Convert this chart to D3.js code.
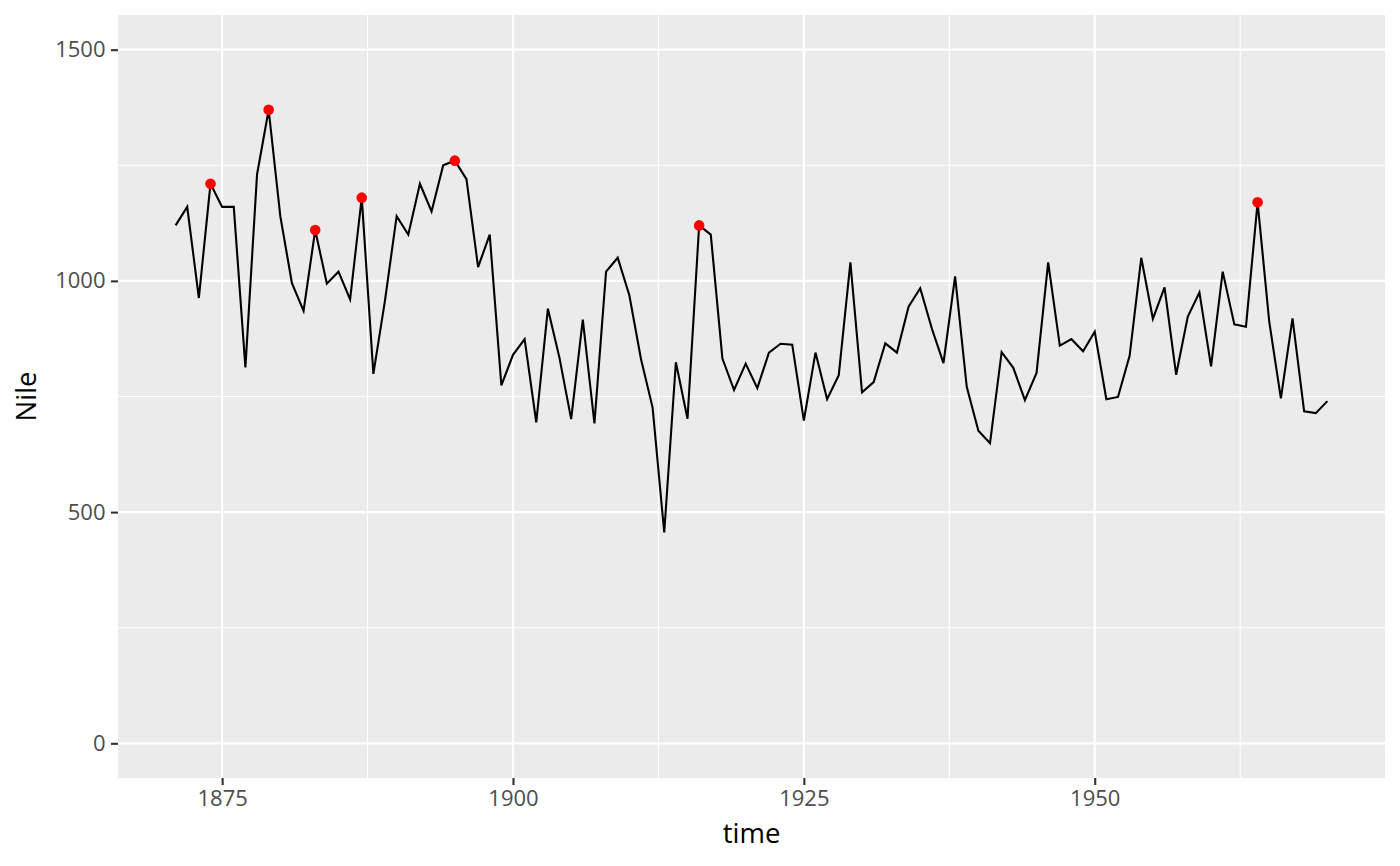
<!DOCTYPE html>
<html><head><meta charset="utf-8">
<script src="https://cdn.jsdelivr.net/npm/d3@7"></script>
<style>body{margin:0;background:#fff}svg{display:block}</style>
</head><body>
<svg id="c" width="1400" height="866"></svg>
<script>
const startYear = 1871;
const nile = [1120,1160,963,1210,1160,1160,813,1230,1370,1140,995,935,1110,994,1020,960,1180,799,958,1140,
1100,1210,1150,1250,1260,1220,1030,1100,774,840,874,694,940,833,701,916,692,1020,1050,969,
831,726,456,824,702,1120,1100,832,764,821,768,845,864,862,698,845,744,796,1040,759,
781,865,845,944,984,897,822,1010,771,676,649,846,812,742,801,1040,860,874,848,890,
744,749,838,1050,918,986,797,923,975,815,1020,906,901,1170,912,746,919,718,714,740];
const highlightYears = [1874,1879,1883,1887,1895,1916,1964];
const xTicks = [1875,1900,1925,1950];
const xMinor = [1887.5,1912.5,1937.5,1962.5];
const yTicks = [0,500,1000,1500];
const yMinor = [250,750,1250];

const data = nile.map((v,i)=>({year:startYear+i, value:v}));
const pts = data.filter(d=>highlightYears.includes(d.year));

const L=118, R=1385, T=15, B=778;
const svg = d3.select('#c');
const x = d3.scaleLinear().domain([1866.05,1974.95]).range([L,R]);
const y = d3.scaleLinear().domain([-75,1575]).range([B,T]);

svg.append('rect').attr('x',L).attr('y',T).attr('width',R-L).attr('height',B-T).attr('fill','#ebebeb');
const g = svg.append('g');
g.selectAll('.ym').data(yMinor).join('line').attr('x1',L).attr('x2',R).attr('y1',d=>y(d)).attr('y2',d=>y(d)).attr('stroke','#fff').attr('stroke-width',1.1);
g.selectAll('.xm').data(xMinor).join('line').attr('y1',T).attr('y2',B).attr('x1',d=>x(d)).attr('x2',d=>x(d)).attr('stroke','#fff').attr('stroke-width',1.1);
g.selectAll('.yM').data(yTicks).join('line').attr('x1',L).attr('x2',R).attr('y1',d=>y(d)).attr('y2',d=>y(d)).attr('stroke','#fff').attr('stroke-width',2.2);
g.selectAll('.xM').data(xTicks).join('line').attr('y1',T).attr('y2',B).attr('x1',d=>x(d)).attr('x2',d=>x(d)).attr('stroke','#fff').attr('stroke-width',2.2);

const line = d3.line().x(d=>x(d.year)).y(d=>y(d.value));
svg.append('path').datum(data).attr('d',line).attr('fill','none').attr('stroke','#000').attr('stroke-width',2.1);
svg.selectAll('.pt').data(pts).join('circle').attr('cx',d=>x(d.year)).attr('cy',d=>y(d.value)).attr('r',5.3).attr('fill','#ff0000');

const font = "'Open Sans', sans-serif";
const xa = svg.append('g').attr('transform',`translate(0,${B})`)
  .call(d3.axisBottom(x).tickValues(xTicks).tickFormat(d3.format('d')).tickSize(7).tickPadding(5.5));
const ya = svg.append('g').attr('transform',`translate(${L},0)`)
  .call(d3.axisLeft(y).tickValues(yTicks).tickFormat(d3.format('d')).tickSize(7).tickPadding(5.5));
[xa,ya].forEach(a=>{
  a.select('.domain').remove();
  a.selectAll('line').attr('stroke','#333').attr('stroke-width',2.1);
  a.selectAll('text').attr('fill','#4d4d4d').style('font-family',font).style('font-size','22px');
});
svg.append('text').attr('x',(L+R)/2).attr('y',843).attr('text-anchor','middle').style('font-family',font).style('font-size','27.5px').attr('fill','#000').text('time');
svg.append('text').attr('transform',`translate(36,${(T+B)/2}) rotate(-90)`).attr('text-anchor','middle').style('font-family',font).style('font-size','27.5px').attr('fill','#000').text('Nile');
</script>
</body></html>
